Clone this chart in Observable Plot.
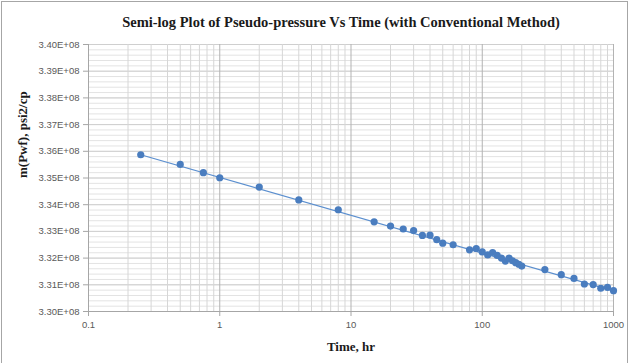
<!DOCTYPE html>
<html>
<head>
<meta charset="utf-8">
<script src="https://cdn.jsdelivr.net/npm/d3@7"></script>
<script src="https://cdn.jsdelivr.net/npm/@observablehq/plot@0.6"></script>
<style>
  html, body { margin: 0; padding: 0; background: #fff; }
  #wrap { position: relative; width: 630px; height: 363px; overflow: hidden; }
  #border { position: absolute; left: 1px; top: 1px; width: 625px; height: 400px; border: 1px solid #a6a6a6; pointer-events: none; }
  svg { display: block; }
</style>
</head>
<body>
<div id="wrap"><div id="chart"></div><div id="border"></div></div>
<script>
// Data
const times = [0.25, 0.5, 0.75, 1, 2, 4, 8, 15, 20, 25, 30, 35, 40, 45, 50, 60, 80, 90, 100, 110, 120, 130, 140, 150, 160, 170, 180, 190, 200, 300, 400, 500, 600, 700, 800, 900, 1000];
const mValues = [3.3587e8, 3.3551e8, 3.3520e8, 3.3501e8, 3.3466e8, 3.3418e8, 3.3381e8, 3.3336e8, 3.3320e8, 3.3309e8, 3.3303e8, 3.3285e8, 3.3286e8, 3.3269e8, 3.3256e8, 3.3250e8, 3.3231e8, 3.3236e8, 3.3223e8, 3.3212e8, 3.3221e8, 3.3210e8, 3.3200e8, 3.3189e8, 3.3200e8, 3.3190e8, 3.3183e8, 3.3177e8, 3.3170e8, 3.3157e8, 3.3138e8, 3.3124e8, 3.3103e8, 3.3101e8, 3.3087e8, 3.3090e8, 3.3078e8];
// Trend line endpoints
const trendTimes = [0.25, 1000];
const trendValues = [3.3587e8, 3.3077e8];
// Axis ticks
const xTicks = [0.1, 1, 10, 100, 1000];
const yTicks = [3.30e8, 3.31e8, 3.32e8, 3.33e8, 3.34e8, 3.35e8, 3.36e8, 3.37e8, 3.38e8, 3.39e8, 3.40e8];

const points = times.map((t, i) => ({t, m: mValues[i]}));
const trend = trendTimes.map((t, i) => ({t, m: trendValues[i]}));
const xMinor = [];
for (const d of [0.1, 1, 10, 100]) for (let k = 2; k <= 9; k++) xMinor.push(d * k);
const yMinor = d3.range(0, 51).map(i => 3.30e8 + i * 2e5);

const fmtE = d => {
  const [mant, exp] = d.toExponential(2).split("e");
  const sign = exp[0];
  return `${mant}E${sign}${exp.slice(1).padStart(2, "0")}`;
};

const serif = "'Liberation Serif', 'Times New Roman', serif";
const sans = "'Liberation Sans', Arial, sans-serif";

const chart = Plot.plot({
  width: 630,
  height: 363,
  marginLeft: 88,
  marginRight: 17,
  marginTop: 44,
  marginBottom: 52,
  style: {background: "#fff", fontFamily: sans},
  x: {type: "log", domain: [0.1, 1000]},
  y: {domain: [3.30e8, 3.40e8]},
  marks: [
    Plot.gridY(yMinor, {stroke: "#e3e3e3", strokeOpacity: 1}),
    Plot.gridY(yTicks, {stroke: "#cfcfcf", strokeOpacity: 1}),
    Plot.gridX(xMinor, {stroke: "#d6d6d6", strokeOpacity: 1}),
    Plot.gridX(xTicks, {stroke: "#b3b3b3", strokeOpacity: 1}),
    Plot.ruleX([0.1], {stroke: "#a6a6a6"}),
    Plot.ruleY([3.30e8], {stroke: "#a6a6a6"}),
    Plot.axisY(yTicks, {tickFormat: fmtE, tickSize: 5, tickPadding: 4, stroke: "#a6a6a6", fill: "#595959", fontSize: 9.5, label: null}),
    Plot.axisX(xTicks, {tickFormat: d => String(d), tickSize: 5, tickPadding: 5, stroke: "#a6a6a6", fill: "#595959", fontSize: 9.5, label: null}),
    Plot.line(trend, {x: "t", y: "m", stroke: "#5b8fcf", strokeWidth: 1.2}),
    Plot.dot(points, {x: "t", y: "m", r: 3.6, fill: "#4a7dbf", stroke: "none"}),
    Plot.text(["Semi-log Plot of Pseudo-pressure Vs Time (with Conventional Method)"], {frameAnchor: "top", dx: -10, dy: -22, fontFamily: serif, fontWeight: "bold", fontSize: 14.5, fill: "#1a1a1a", lineAnchor: "middle"}),
    Plot.text(["m(Pwf), psi2/cp"], {frameAnchor: "left", dx: -66, rotate: -90, fontFamily: serif, fontWeight: "bold", fontSize: 13, fill: "#1a1a1a", lineAnchor: "middle"}),
    Plot.text(["Time, hr"], {frameAnchor: "bottom", dy: 35, fontFamily: serif, fontWeight: "bold", fontSize: 13, fill: "#1a1a1a", lineAnchor: "middle"})
  ]
});
document.getElementById("chart").appendChild(chart);
</script>
</body>
</html>
